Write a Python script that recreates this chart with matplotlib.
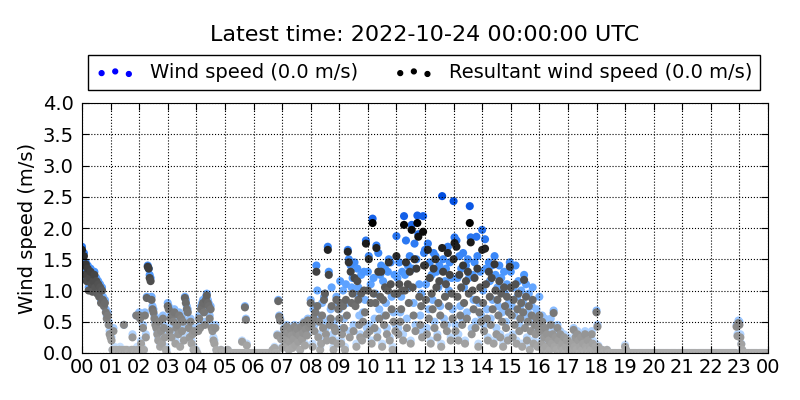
import numpy as np
import matplotlib
matplotlib.use('Agg')
import matplotlib.pyplot as plt
from matplotlib.colors import LinearSegmentedColormap

# 2-minute samples, one row per hour (30 values)
wind_speed = [
    1.70, 1.45, 1.60, 1.30, 1.45, 1.20, 1.40, 1.05, 1.25, 1.35, 1.15, 1.00, 1.20, 1.30, 1.10, 1.20, 1.00, 1.15, 0.95, 1.10, 0.85, 1.05, 0.90, 0.80, 0.85, 0.70, 0.60, 0.65, 0.50, 0.35,  # 00
    0.30, 0.25, 0.05, 0.40, 0.10, 0.00, 0.05, 0.05, 0.00, 0.05, 0.10, 0.00, 0.05, 0.00, 0.45, 0.05, 0.00, 0.05, 0.00, 0.05, 0.00, 0.00, 0.05, 0.30, 0.05, 0.00, 0.05, 0.60, 0.10, 0.00,  # 01
    0.65, 0.60, 0.20, 0.10, 0.45, 0.05, 0.65, 0.30, 0.90, 1.40, 1.35, 1.25, 1.20, 0.90, 0.75, 0.70, 0.60, 0.50, 0.45, 0.35, 0.25, 0.55, 0.15, 0.40, 0.20, 0.60, 0.45, 0.30, 0.10, 0.05,  # 02
    0.80, 0.75, 0.40, 0.60, 0.30, 0.65, 0.55, 0.70, 0.20, 0.45, 0.50, 0.35, 0.65, 0.15, 0.60, 0.40, 0.55, 0.25, 0.90, 0.85, 0.75, 0.70, 0.45, 0.30, 0.55, 0.20, 0.35, 0.10, 0.40, 0.05,  # 03
    0.05, 0.00, 0.40, 0.60, 0.45, 0.75, 0.80, 0.85, 0.70, 0.50, 0.90, 0.95, 0.85, 0.80, 0.60, 0.75, 0.45, 0.40, 0.25, 0.20, 0.45, 0.05, 0.00, 0.05, 0.00, 0.00, 0.05, 0.00, 0.00, 0.00,  # 04
    0.00, 0.00, 0.00, 0.05, 0.00, 0.00, 0.00, 0.00, 0.00, 0.00, 0.00, 0.00, 0.00, 0.00, 0.00, 0.00, 0.00, 0.00, 0.20, 0.00, 0.00, 0.75, 0.55, 0.15, 0.00, 0.00, 0.00, 0.00, 0.00, 0.00,  # 05
    0.00, 0.00, 0.00, 0.00, 0.00, 0.00, 0.00, 0.00, 0.00, 0.00, 0.00, 0.00, 0.00, 0.00, 0.00, 0.00, 0.00, 0.00, 0.00, 0.00, 0.05, 0.00, 0.10, 0.00, 0.00, 0.30, 0.85, 0.60, 0.55, 0.25,  # 06
    0.10, 0.30, 0.40, 0.15, 0.25, 0.45, 0.35, 0.05, 0.20, 0.40, 0.30, 0.10, 0.25, 0.45, 0.15, 0.35, 0.40, 0.20, 0.30, 0.05, 0.45, 0.25, 0.35, 0.50, 0.15, 0.40, 0.30, 0.55, 0.45, 0.50,  # 07
    0.85, 0.55, 0.15, 0.70, 0.45, 0.75, 1.40, 1.00, 0.30, 0.60, 0.10, 0.20, 0.80, 0.50, 0.90, 0.95, 0.40, 0.25, 1.70, 1.30, 0.55, 0.70, 1.05, 0.30, 0.10, 0.50, 0.40, 0.90, 0.20, 0.80,  # 08
    0.70, 1.15, 0.20, 0.40, 1.00, 0.55, 0.10, 1.10, 0.80, 1.65, 1.50, 0.35, 1.40, 1.05, 1.20, 0.45, 1.45, 0.95, 0.15, 1.35, 1.05, 0.60, 0.30, 1.25, 0.25, 0.65, 1.30, 0.85, 1.80, 0.40,  # 09
    1.30, 1.55, 0.45, 1.10, 0.20, 2.15, 1.20, 0.55, 0.95, 1.72, 0.35, 1.60, 0.70, 1.25, 1.40, 0.15, 1.15, 0.60, 1.35, 0.80, 0.40, 1.30, 1.50, 0.25, 1.45, 0.90, 0.10, 0.65, 1.25, 0.45,  # 10
    1.87, 1.20, 0.40, 1.45, 0.65, 0.90, 1.30, 0.30, 2.19, 1.25, 1.80, 0.55, 1.40, 1.05, 1.55, 0.20, 2.05, 1.35, 0.80, 1.75, 0.45, 1.50, 2.20, 1.90, 1.10, 0.60, 0.95, 0.35, 2.19, 1.60,  # 11
    1.65, 1.10, 0.40, 1.75, 0.70, 1.45, 0.20, 1.25, 0.85, 1.60, 0.50, 1.55, 1.30, 0.30, 1.05, 1.40, 0.75, 0.15, 2.51, 1.50, 0.55, 1.15, 1.35, 0.45, 1.70, 1.00, 1.45, 0.25, 1.20, 0.70,  # 12
    2.43, 1.85, 0.45, 1.80, 1.20, 0.30, 1.55, 0.75, 1.35, 0.55, 1.60, 1.05, 0.20, 1.40, 0.65, 1.50, 1.20, 2.35, 1.85, 0.40, 1.25, 0.85, 1.45, 0.50, 1.86, 1.55, 0.15, 0.80, 1.30, 0.60,  # 13
    1.97, 1.00, 0.45, 1.82, 1.35, 0.70, 0.25, 1.45, 1.15, 0.55, 1.40, 0.85, 0.20, 1.55, 1.25, 0.40, 1.05, 0.75, 1.40, 0.30, 1.20, 0.65, 0.15, 1.30, 0.95, 0.50, 1.10, 0.25, 0.80, 1.45,  # 14
    1.30, 0.75, 0.30, 1.05, 0.60, 1.40, 0.20, 0.90, 1.15, 0.45, 0.70, 1.00, 0.15, 0.80, 1.25, 0.55, 1.10, 0.25, 0.65, 0.95, 0.10, 0.50, 0.75, 1.05, 0.20, 0.60, 0.40, 0.70, 0.15, 0.55,  # 15
    0.90, 0.45, 0.20, 0.60, 0.10, 0.30, 0.55, 0.15, 0.35, 0.05, 0.25, 0.10, 0.55, 0.20, 0.35, 0.68, 0.15, 0.30, 0.10, 0.45, 0.25, 0.05, 0.35, 0.15, 0.20, 0.10, 0.30, 0.05, 0.15, 0.25,  # 16
    0.25, 0.10, 0.15, 0.05, 0.10, 0.20, 0.40, 0.15, 0.30, 0.05, 0.35, 0.25, 0.00, 0.15, 0.30, 0.10, 0.20, 0.05, 0.35, 0.15, 0.10, 0.25, 0.00, 0.15, 0.10, 0.35, 0.20, 0.05, 0.10, 0.15,  # 17
    0.68, 0.45, 0.12, 0.05, 0.00, 0.00, 0.05, 0.00, 0.00, 0.00, 0.00, 0.05, 0.00, 0.00, 0.00, 0.00, 0.00, 0.00, 0.00, 0.00, 0.00, 0.00, 0.00, 0.00, 0.00, 0.00, 0.00, 0.00, 0.00, 0.00,  # 18
    0.13, 0.05, 0.00, 0.00, 0.00, 0.00, 0.00, 0.00, 0.00, 0.00, 0.00, 0.00, 0.00, 0.00, 0.00, 0.00, 0.00, 0.00, 0.00, 0.00, 0.00, 0.00, 0.00, 0.00, 0.00, 0.00, 0.00, 0.00, 0.00, 0.00,  # 19
    0.00, 0.00, 0.00, 0.00, 0.00, 0.00, 0.00, 0.00, 0.00, 0.00, 0.00, 0.00, 0.00, 0.00, 0.00, 0.00, 0.00, 0.00, 0.00, 0.00, 0.00, 0.00, 0.00, 0.00, 0.00, 0.00, 0.00, 0.00, 0.00, 0.00,  # 20
    0.00, 0.00, 0.00, 0.00, 0.00, 0.00, 0.00, 0.00, 0.00, 0.00, 0.00, 0.00, 0.00, 0.00, 0.00, 0.00, 0.00, 0.00, 0.00, 0.00, 0.00, 0.00, 0.00, 0.00, 0.00, 0.00, 0.00, 0.00, 0.00, 0.00,  # 21
    0.00, 0.00, 0.00, 0.00, 0.00, 0.00, 0.00, 0.00, 0.00, 0.00, 0.00, 0.00, 0.00, 0.00, 0.00, 0.00, 0.00, 0.00, 0.00, 0.00, 0.00, 0.00, 0.00, 0.00, 0.00, 0.00, 0.00, 0.45, 0.30, 0.52,  # 22
    0.50, 0.30, 0.15, 0.05, 0.00, 0.00, 0.00, 0.00, 0.00, 0.00, 0.00, 0.00, 0.00, 0.00, 0.00, 0.00, 0.00, 0.00, 0.00, 0.00, 0.00, 0.00, 0.00, 0.00, 0.00, 0.00, 0.00, 0.00, 0.00, 0.00,  # 23
]

resultant_speed = [
    1.65, 1.40, 1.55, 1.25, 1.42, 1.15, 1.35, 1.00, 1.20, 1.30, 1.10, 0.98, 1.15, 1.25, 1.05, 1.15, 0.95, 1.10, 0.90, 1.05, 0.80, 1.00, 0.85, 0.75, 0.80, 0.65, 0.55, 0.60, 0.45, 0.30,  # 00
    0.25, 0.20, 0.05, 0.35, 0.05, 0.00, 0.05, 0.00, 0.00, 0.05, 0.05, 0.00, 0.05, 0.00, 0.45, 0.05, 0.00, 0.05, 0.00, 0.00, 0.00, 0.00, 0.05, 0.25, 0.05, 0.00, 0.00, 0.60, 0.05, 0.00,  # 01
    0.60, 0.55, 0.15, 0.05, 0.40, 0.05, 0.60, 0.25, 0.88, 1.38, 1.35, 1.20, 1.15, 0.85, 0.70, 0.65, 0.55, 0.45, 0.40, 0.30, 0.20, 0.50, 0.10, 0.35, 0.15, 0.55, 0.40, 0.25, 0.05, 0.00,  # 02
    0.75, 0.70, 0.35, 0.55, 0.25, 0.60, 0.50, 0.65, 0.15, 0.40, 0.45, 0.30, 0.60, 0.10, 0.55, 0.35, 0.50, 0.20, 0.88, 0.80, 0.70, 0.65, 0.40, 0.25, 0.50, 0.15, 0.30, 0.05, 0.35, 0.05,  # 03
    0.00, 0.00, 0.35, 0.55, 0.40, 0.70, 0.75, 0.80, 0.65, 0.45, 0.85, 0.92, 0.80, 0.75, 0.55, 0.70, 0.40, 0.35, 0.20, 0.15, 0.40, 0.05, 0.00, 0.00, 0.00, 0.00, 0.05, 0.00, 0.00, 0.00,  # 04
    0.00, 0.00, 0.00, 0.05, 0.00, 0.00, 0.00, 0.00, 0.00, 0.00, 0.00, 0.00, 0.00, 0.00, 0.00, 0.00, 0.00, 0.00, 0.18, 0.00, 0.00, 0.73, 0.53, 0.12, 0.00, 0.00, 0.00, 0.00, 0.00, 0.00,  # 05
    0.00, 0.00, 0.00, 0.00, 0.00, 0.00, 0.00, 0.00, 0.00, 0.00, 0.00, 0.00, 0.00, 0.00, 0.00, 0.00, 0.00, 0.00, 0.00, 0.00, 0.05, 0.00, 0.08, 0.00, 0.00, 0.28, 0.83, 0.58, 0.52, 0.22,  # 06
    0.08, 0.28, 0.38, 0.12, 0.22, 0.42, 0.32, 0.05, 0.18, 0.38, 0.28, 0.08, 0.22, 0.42, 0.12, 0.32, 0.38, 0.18, 0.28, 0.05, 0.42, 0.22, 0.32, 0.48, 0.12, 0.38, 0.28, 0.52, 0.42, 0.48,  # 07
    0.80, 0.45, 0.10, 0.55, 0.35, 0.65, 1.30, 0.75, 0.25, 0.50, 0.05, 0.15, 0.60, 0.40, 0.85, 0.95, 0.30, 0.20, 1.65, 1.25, 0.45, 0.55, 0.75, 0.20, 0.05, 0.40, 0.35, 0.85, 0.15, 0.70,  # 08
    0.55, 0.80, 0.15, 0.30, 0.75, 0.40, 0.05, 0.85, 0.60, 1.62, 1.45, 0.25, 1.30, 0.80, 0.95, 0.35, 1.20, 0.75, 0.10, 1.15, 0.85, 0.45, 0.25, 0.95, 0.20, 0.50, 1.00, 0.65, 1.75, 0.30,  # 09
    1.00, 1.50, 0.35, 0.80, 0.15, 2.08, 0.95, 0.40, 0.80, 1.68, 0.25, 1.30, 0.55, 0.90, 1.30, 0.10, 0.85, 0.45, 1.05, 0.60, 0.30, 1.00, 1.45, 0.20, 1.10, 0.70, 0.05, 0.50, 0.95, 0.35,  # 10
    1.55, 0.95, 0.30, 1.10, 0.50, 0.70, 1.00, 0.20, 2.05, 1.00, 1.45, 0.40, 1.10, 0.80, 1.30, 0.15, 1.97, 1.05, 0.60, 1.50, 0.35, 1.35, 2.08, 1.86, 0.90, 0.45, 0.75, 0.25, 1.94, 1.40,  # 11
    1.40, 0.85, 0.30, 1.65, 0.55, 1.20, 0.15, 0.95, 0.70, 1.35, 0.40, 1.50, 1.05, 0.25, 0.80, 1.15, 0.60, 0.10, 1.68, 1.30, 0.45, 0.90, 1.10, 0.35, 1.60, 0.75, 1.25, 0.20, 0.95, 0.55,  # 12
    1.50, 1.76, 0.35, 1.70, 0.90, 0.20, 1.25, 0.60, 1.05, 0.45, 1.40, 0.80, 0.15, 1.15, 0.55, 1.30, 0.95, 2.08, 1.77, 0.30, 1.00, 0.70, 1.20, 0.40, 0.85, 1.35, 0.10, 0.65, 1.05, 0.50,  # 13
    1.65, 0.80, 0.35, 1.67, 1.10, 0.55, 0.20, 1.30, 0.90, 0.45, 1.20, 0.70, 0.15, 1.42, 1.00, 0.30, 0.85, 0.60, 1.15, 0.25, 0.95, 0.50, 0.10, 1.05, 0.75, 0.40, 0.90, 0.20, 0.65, 1.38,  # 14
    1.05, 0.60, 0.25, 0.85, 0.45, 1.10, 0.15, 0.70, 0.95, 0.35, 0.55, 0.80, 0.10, 0.65, 1.17, 0.40, 0.90, 0.20, 0.50, 0.75, 0.05, 0.35, 0.60, 0.85, 0.15, 0.45, 0.30, 0.55, 0.10, 0.40,  # 15
    0.60, 0.35, 0.15, 0.50, 0.05, 0.25, 0.40, 0.10, 0.30, 0.00, 0.20, 0.05, 0.45, 0.15, 0.30, 0.64, 0.10, 0.25, 0.05, 0.40, 0.20, 0.00, 0.30, 0.10, 0.15, 0.05, 0.25, 0.00, 0.10, 0.20,  # 16
    0.20, 0.05, 0.10, 0.00, 0.05, 0.15, 0.37, 0.10, 0.25, 0.05, 0.30, 0.20, 0.00, 0.10, 0.25, 0.05, 0.15, 0.00, 0.30, 0.10, 0.05, 0.20, 0.00, 0.10, 0.05, 0.30, 0.15, 0.00, 0.05, 0.10,  # 17
    0.65, 0.42, 0.10, 0.05, 0.00, 0.00, 0.05, 0.00, 0.00, 0.00, 0.00, 0.05, 0.00, 0.00, 0.00, 0.00, 0.00, 0.00, 0.00, 0.00, 0.00, 0.00, 0.00, 0.00, 0.00, 0.00, 0.00, 0.00, 0.00, 0.00,  # 18
    0.10, 0.05, 0.00, 0.00, 0.00, 0.00, 0.00, 0.00, 0.00, 0.00, 0.00, 0.00, 0.00, 0.00, 0.00, 0.00, 0.00, 0.00, 0.00, 0.00, 0.00, 0.00, 0.00, 0.00, 0.00, 0.00, 0.00, 0.00, 0.00, 0.00,  # 19
    0.00, 0.00, 0.00, 0.00, 0.00, 0.00, 0.00, 0.00, 0.00, 0.00, 0.00, 0.00, 0.00, 0.00, 0.00, 0.00, 0.00, 0.00, 0.00, 0.00, 0.00, 0.00, 0.00, 0.00, 0.00, 0.00, 0.00, 0.00, 0.00, 0.00,  # 20
    0.00, 0.00, 0.00, 0.00, 0.00, 0.00, 0.00, 0.00, 0.00, 0.00, 0.00, 0.00, 0.00, 0.00, 0.00, 0.00, 0.00, 0.00, 0.00, 0.00, 0.00, 0.00, 0.00, 0.00, 0.00, 0.00, 0.00, 0.00, 0.00, 0.00,  # 21
    0.00, 0.00, 0.00, 0.00, 0.00, 0.00, 0.00, 0.00, 0.00, 0.00, 0.00, 0.00, 0.00, 0.00, 0.00, 0.00, 0.00, 0.00, 0.00, 0.00, 0.00, 0.00, 0.00, 0.00, 0.00, 0.00, 0.00, 0.42, 0.27, 0.48,  # 22
    0.45, 0.25, 0.14, 0.05, 0.00, 0.00, 0.00, 0.00, 0.00, 0.00, 0.00, 0.00, 0.00, 0.00, 0.00, 0.00, 0.00, 0.00, 0.00, 0.00, 0.00, 0.00, 0.00, 0.00, 0.00, 0.00, 0.00, 0.00, 0.00, 0.00,  # 23
]

hour_labels = ['%02d' % (h % 24) for h in range(25)]
TITLE = 'Latest time: 2022-10-24 00:00:00 UTC'
WIND_LABEL = 'Wind speed (0.0 m/s)'
RES_LABEL = 'Resultant wind speed (0.0 m/s)'

assert len(wind_speed) == 720 and len(resultant_speed) == 720
times = np.arange(len(wind_speed)) / 30.0  # hours

blue_cmap = LinearSegmentedColormap.from_list(
    'wind', [(0.82, 0.90, 1.0), (0.30, 0.60, 1.0), (0.0, 0.30, 0.88)])
grey_cmap = LinearSegmentedColormap.from_list(
    'res', [(0.68, 0.68, 0.68), (0.0, 0.0, 0.0)])

fig = plt.figure(figsize=(8, 4), dpi=100)
ax = fig.add_axes([0.1025, 0.1175, 0.8575, 0.625])

ax.scatter(times, wind_speed, c=wind_speed, cmap=blue_cmap, vmin=0,
           vmax=max(wind_speed), s=34, edgecolors='none', zorder=1)
ax.scatter(times, resultant_speed, c=resultant_speed, cmap=grey_cmap, vmin=0,
           vmax=max(resultant_speed), s=34, edgecolors='none', zorder=1.1)

ax.set_xlim(0, 24)
ax.set_ylim(0, 4)
ax.set_xticks(range(25))
ax.set_xticklabels(hour_labels)
ax.set_yticks(np.arange(0, 4.01, 0.5))
ax.set_yticklabels(['%.1f' % v for v in np.arange(0, 4.01, 0.5)])
ax.tick_params(direction='in', top=True, right=True, labelsize=14, length=5)
ax.tick_params(axis='y', pad=6)
ax.grid(True, linestyle=':', color='k', linewidth=0.8)
ax.set_axisbelow(False)
ax.set_ylabel('Wind speed (m/s)', fontsize=14)

# legend proxies
h1 = ax.scatter([], [], s=12, color='blue', label=WIND_LABEL)
h2 = ax.scatter([], [], s=12, color='black', label=RES_LABEL)
leg = ax.legend(handles=[h1, h2], loc='lower left', ncol=2, mode='expand',
                bbox_to_anchor=(6 / 686, 1.052, 672 / 686, 0.14),
                borderaxespad=0, fontsize=14, scatterpoints=3,
                fancybox=False, framealpha=1, edgecolor='black')

fig.text(425 / 800, 1 - 35 / 400, TITLE, ha='center', va='center', fontsize=16)

fig.savefig('out.png', dpi=100)
